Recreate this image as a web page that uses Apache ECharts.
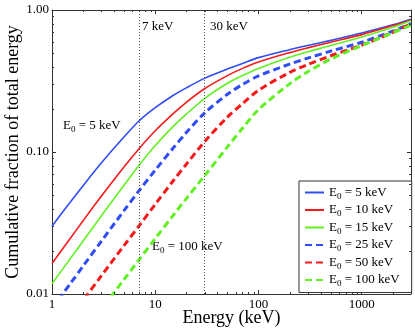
<!DOCTYPE html>
<html>
<head>
<meta charset="utf-8">
<script src="https://cdn.jsdelivr.net/npm/echarts@6/dist/echarts.min.js"></script>
<style>
html,body{margin:0;padding:0;background:#fff;}
#container{width:415px;height:331px;}
</style>
</head>
<body>
<div id="container"></div>
<script>
// photon energy grid (keV)
var energy = [1, 1.5, 2, 3, 5, 7, 10, 15, 20, 30, 50, 70, 100, 200, 300, 500, 1000, 2000, 3000];
// cumulative fraction for each E0
var e5   = [0.030, 0.0443, 0.0579, 0.0836, 0.128, 0.166, 0.205, 0.251, 0.283, 0.330, 0.384, 0.420, 0.462, 0.525, 0.562, 0.611, 0.688, 0.787, 0.862];
var e10  = [0.0164, 0.0246, 0.0328, 0.0488, 0.0788, 0.106, 0.141, 0.187, 0.224, 0.279, 0.345, 0.388, 0.431, 0.501, 0.541, 0.593, 0.671, 0.776, 0.851];
var e15  = [0.0118, 0.0177, 0.0236, 0.0354, 0.0585, 0.081, 0.111, 0.152, 0.185, 0.238, 0.305, 0.346, 0.388, 0.465, 0.508, 0.562, 0.646, 0.757, 0.841];
var e25  = [0.00787, 0.0118, 0.0157, 0.0235, 0.0388, 0.0536, 0.0746, 0.107, 0.137, 0.188, 0.255, 0.299, 0.343, 0.416, 0.458, 0.513, 0.593, 0.710, 0.802];
var e50  = [0.0045, 0.00675, 0.0090, 0.0134, 0.0220, 0.0303, 0.0429, 0.0630, 0.0820, 0.118, 0.176, 0.219, 0.272, 0.363, 0.413, 0.476, 0.566, 0.697, 0.800];
var e100 = [0.0026, 0.0039, 0.0052, 0.00775, 0.0127, 0.0175, 0.0246, 0.036, 0.047, 0.0679, 0.1086, 0.147, 0.199, 0.302, 0.367, 0.451, 0.562, 0.692, 0.782];

var names = ['E0 = 5 keV', 'E0 = 10 keV', 'E0 = 15 keV', 'E0 = 25 keV', 'E0 = 50 keV', 'E0 = 100 keV'];
var colors = ['#2f4cf5', '#f41a1a', '#62f025', '#2f4cf5', '#f41a1a', '#62f025'];
var markers = [7, 30];
var minorX = [2, 3, 4, 5, 6, 7, 8, 9, 20, 30, 40, 50, 60, 70, 80, 90, 200, 300, 400, 500, 600, 700, 800, 900, 2000];
var minorY = [0.02, 0.03, 0.04, 0.05, 0.06, 0.07, 0.08, 0.09, 0.2, 0.3, 0.4, 0.5, 0.6, 0.7, 0.8, 0.9];

var FONT = 'Liberation Serif';
var AX = '#333';

function pairs(ys){
	var out = [];
	for (var i = 0; i < energy.length; i++){
		out.push([energy[i], ys[i]]);
	}
	return out;
}

function lineSeries(i, ys){
	var dashed = i >= 3;
	return {
		name: names[i],
		type: 'line',
		data: pairs(ys),
		showSymbol: false,
		symbol: 'none',
		smooth: 0.3,
		clip: true,
		silent: true,
		z: 3,
		lineStyle: {color: colors[i], width: dashed ? 3 : 1.6, type: dashed ? [7, 4] : 'solid'},
		itemStyle: {color: colors[i]}
	};
}

// minor ticks on all four sides
var tickData = [];
minorX.forEach(function(v){ tickData.push([v, 0.01, 0]); });
minorY.forEach(function(v){ tickData.push([1, v, 1]); });

function renderTick(params, api){
	var cs = params.coordSys;
	var p = api.coord([api.value(0), api.value(1)]);
	var st = {stroke: AX, lineWidth: 1};
	if (api.value(2) == 0){
		var x = Math.round(p[0]) + 0.5;
		return {type: 'group', children: [
			{type: 'line', shape: {x1: x, y1: cs.y + cs.height, x2: x, y2: cs.y + cs.height - 2}, style: st},
			{type: 'line', shape: {x1: x, y1: cs.y, x2: x, y2: cs.y + 2}, style: st}
		]};
	}
	var y = Math.round(p[1]) + 0.5;
	return {type: 'group', children: [
		{type: 'line', shape: {x1: cs.x, y1: y, x2: cs.x + 2, y2: y}, style: st},
		{type: 'line', shape: {x1: cs.x + cs.width, y1: y, x2: cs.x + cs.width - 2, y2: y}, style: st}
	]};
}

var sub = {
	e: {fontFamily: FONT, fontSize: 13, color: '#000', lineHeight: 12},
	s: {fontFamily: FONT, fontSize: 9, color: '#000', lineHeight: 17, verticalAlign: 'bottom'}
};

function subText(name){
	return '{e|E}{s|0}{e|' + name.substring(2) + '}';
}

function axisBase(pos){
	return {
		type: 'log',
		logBase: 10,
		position: pos,
		nameMoveOverlap: false,
		axisLine: {show: true, lineStyle: {color: AX, width: 1}},
		axisTick: {show: true, inside: true, length: 4, lineStyle: {color: AX}},
		splitLine: {show: false},
		minorTick: {show: false}
	};
}

var xBottom = axisBase('bottom');
xBottom.min = 1; xBottom.max = 3000;
xBottom.name = 'Energy (keV)';
xBottom.nameLocation = 'middle';
xBottom.nameGap = 15;
xBottom.nameTextStyle = {fontFamily: FONT, fontSize: 18, color: '#000'};
xBottom.axisLabel = {fontFamily: FONT, fontSize: 13, color: '#000', margin: 4, showMaxLabel: false,
	formatter: function(v){ return String(Math.round(v)); }};

var xTop = axisBase('top');
xTop.min = 1; xTop.max = 3000;
xTop.axisLabel = {show: false};

var yLeft = axisBase('left');
yLeft.min = 0.01; yLeft.max = 1;
yLeft.name = 'Cumulative fraction of total energy';
yLeft.nameLocation = 'middle';
yLeft.nameGap = 30;
yLeft.nameTextStyle = {fontFamily: FONT, fontSize: 18, color: '#000'};
yLeft.axisLabel = {fontFamily: FONT, fontSize: 13, color: '#000', margin: 3,
	formatter: function(v){ return v.toFixed(2); }};

var yRight = axisBase('right');
yRight.min = 0.01; yRight.max = 1;
yRight.axisLabel = {show: false};

var series = [
	lineSeries(0, e5), lineSeries(1, e10), lineSeries(2, e15),
	lineSeries(3, e25), lineSeries(4, e50), lineSeries(5, e100)
];
series[0].markLine = {
	silent: true,
	symbol: 'none',
	label: {show: false},
	lineStyle: {color: '#555', type: [1, 2], width: 1},
	data: markers.map(function(m){ return {xAxis: m}; })
};
series.push({
	type: 'custom',
	silent: true,
	renderItem: renderTick,
	data: tickData,
	z: 5
});

var option = {
	animation: false,
	backgroundColor: '#fff',
	grid: {left: 52, right: 4, top: 10, bottom: 37, containLabel: false, outerBoundsMode: 'none'},
	xAxis: [xBottom, xTop],
	yAxis: [yLeft, yRight],
	legend: {
		data: names,
		orient: 'vertical',
		left: 299,
		top: 181,
		padding: [5, 12, 4, 5],
		itemWidth: 19,
		itemHeight: 14,
		itemGap: 2.5,
		backgroundColor: '#fff',
		borderColor: AX,
		borderWidth: 1,
		borderRadius: 0,
		selectedMode: false,
		itemStyle: {color: 'rgba(0,0,0,0)', borderWidth: 0, opacity: 0},
		formatter: subText,
		textStyle: {fontFamily: FONT, fontSize: 13, color: '#000', rich: sub}
	},
	graphic: [
		{type: 'text', left: 142, top: 20, style: {text: '7 keV', font: '13px "Liberation Serif"', fill: '#000'}},
		{type: 'text', left: 210, top: 20, style: {text: '30 keV', font: '13px "Liberation Serif"', fill: '#000'}},
		{type: 'text', left: 63, top: 119, style: {text: subText('E0 = 5 keV'), rich: sub, fill: '#000'}},
		{type: 'text', left: 152, top: 240, style: {text: subText('E0 = 100 keV'), rich: sub, fill: '#000'}}
	],
	series: series
};

var myChart = echarts.init(document.getElementById('container'));
myChart.setOption(option, true);
</script>
</body>
</html>
